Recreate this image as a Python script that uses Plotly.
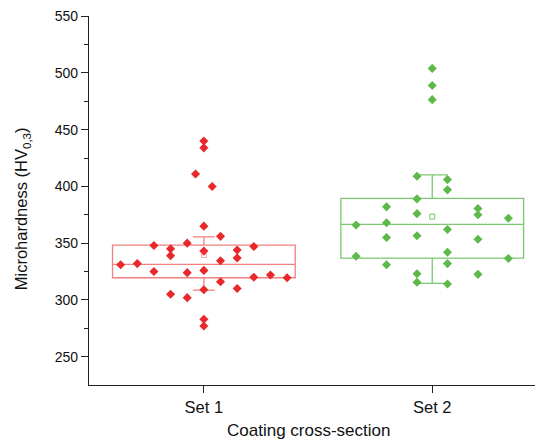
import plotly.graph_objects as go

# ---------------- data ----------------
categories = ["Set 1", "Set 2"]

set1_values = [440, 434, 411, 400, 365, 356, 348, 350, 345, 339, 343, 344, 337, 347,
               331, 332, 334.5, 325, 324, 326, 320, 322, 319.5, 316, 310, 309, 305,
               302, 283, 277]
set1_slot = [0, 0, -0.5, 0.5, 0, 1, -3, -1, -2, -2, 0, 2, 2, 3,
             -5, -4, 1, -3, -1, 0, 3, 4, 5, 1, 2, 0, -2,
             -1, 0, 0]

set2_values = [504, 489, 476.5, 409, 406, 397, 389, 382, 376, 380.5, 375, 372, 366,
               368, 362, 355, 356.5, 353.5, 342, 338.5, 336.5, 332, 331, 323, 322.5,
               315.5, 314]
set2_slot = [0, 0, 0, -0.5, 0.5, 0.5, -0.5, -1.5, -0.5, 1.5, 1.5, 2.5, -2.5,
             -1.5, 0.5, -1.5, -0.5, 1.5, 0.5, -2.5, 2.5, 0.5, -1.5, -0.5, 1.5,
             -0.5, 0.5]

# box statistics as drawn (q1, median, q3, lower whisker, upper whisker, mean)
box_q1 = [319.5, 336.8]
box_median = [331.3, 366.5]
box_q3 = [348.3, 389.4]
box_low = [308.7, 314.6]
box_high = [355.6, 410.1]
box_mean = [339.5, 373.4]

y_ticks = [250, 300, 350, 400, 450, 500, 550]
x_title = "Coating cross-section"
y_title = "Microhardness (HV<sub>0,3</sub>)"

# ---------------- styling ----------------
marker_colors = ["#E8282B", "#5DB94A"]
box_colors = ["rgba(236,60,60,0.65)", "rgba(93,185,74,0.8)"]
mean_colors = ["rgba(236,80,80,0.5)", "rgba(93,185,74,0.8)"]
slot_step = [0.0729, 0.1334]
whisker_w = [0.12, 0.17]

fig = go.Figure()

all_values = [set1_values, set2_values]
all_slots = [set1_slot, set2_slot]

for i, cat in enumerate(categories):
    fig.add_trace(go.Box(
        x=[i], q1=[box_q1[i]], median=[box_median[i]], q3=[box_q3[i]],
        lowerfence=[box_low[i]], upperfence=[box_high[i]],
        width=0.8, whiskerwidth=whisker_w[i],
        line=dict(color=box_colors[i], width=1.3),
        fillcolor="rgba(0,0,0,0)", boxpoints=False, showlegend=False,
        hoverinfo="skip",
    ))

for i, cat in enumerate(categories):
    xs = [i + s * slot_step[i] for s in all_slots[i]]
    fig.add_trace(go.Scatter(
        x=xs, y=all_values[i], mode="markers",
        marker=dict(symbol="diamond", size=7, color=marker_colors[i],
                    line=dict(width=0)),
        showlegend=False,
    ))
    fig.add_trace(go.Scatter(
        x=[i], y=[box_mean[i]], mode="markers",
        marker=dict(symbol="square-open", size=5, color=mean_colors[i],
                    line=dict(width=1)),
        showlegend=False,
    ))

font_family = "Liberation Sans, Arial, sans-serif"

# page body has an 8 px margin, so the figure is 8 px smaller on each axis
fig.update_layout(
    width=535, height=432,
    margin=dict(l=81, r=0, t=8, b=55, autoexpand=False),
    paper_bgcolor="white", plot_bgcolor="white",
    font=dict(family=font_family, color="#111111"),
    xaxis=dict(
        range=[-0.503, 1.485], tickmode="array", tickvals=[0, 1],
        ticktext=categories, ticks="outside", ticklen=7, tickwidth=1.2,
        tickcolor="#222222", showline=True, linecolor="#222222", linewidth=1.3,
        showgrid=False, zeroline=False, automargin=False,
        tickfont=dict(size=16.5, family=font_family, color="#111111"),
    ),
    yaxis=dict(
        range=[225, 550.2], tickmode="array", tickvals=y_ticks,
        ticktext=[str(v) for v in y_ticks],
        ticks="outside", ticklen=7, tickwidth=1.2, tickcolor="#222222",
        showline=True, linecolor="#222222", linewidth=1.3,
        showgrid=False, zeroline=False, automargin=False,
        minor=dict(ticks="outside", ticklen=4, tickmode="array",
                   tickvals=[275, 325, 375, 425, 475, 525],
                   tickcolor="#222222", tickwidth=1.2, showgrid=False),
        tickfont=dict(size=14, family=font_family, color="#111111"),
    ),
    annotations=[
        dict(text=x_title, xref="paper", yref="paper", x=(308 - 89) / 454,
             y=-0.122, xanchor="center", yanchor="middle", showarrow=False,
             font=dict(size=17, family=font_family, color="#111111")),
        dict(text=y_title, xref="paper", yref="paper", x=-0.147, y=0.477,
             textangle=-90, xanchor="center", yanchor="middle", showarrow=False,
             font=dict(size=16.5, family=font_family, color="#111111")),
    ],
)

fig.write_html("out.html")
